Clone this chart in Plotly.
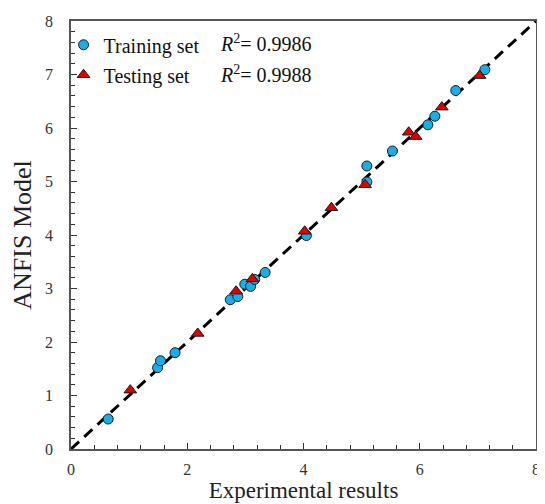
import plotly.graph_objects as go

# Training set (Experimental, ANFIS)
train_exp = [0.64, 1.49, 1.54, 1.79, 2.74, 2.87, 2.99, 3.09, 3.16, 3.34, 4.05, 5.09, 5.09, 5.53, 6.14, 6.26, 6.62, 7.12]
train_anfis = [0.56, 1.52, 1.65, 1.80, 2.79, 2.85, 3.08, 3.04, 3.17, 3.30, 3.99, 4.99, 5.29, 5.57, 6.06, 6.22, 6.70, 7.09]

# Testing set
test_exp = [1.02, 2.18, 2.84, 3.12, 4.02, 4.48, 5.06, 5.81, 5.93, 6.38, 7.03]
test_anfis = [1.10, 2.16, 2.95, 3.18, 4.07, 4.51, 4.94, 5.92, 5.84, 6.39, 6.98]

r2_train = "0.9986"
r2_test = "0.9988"

line_x = [0, 8]
line_y = [0, 8]

FONT = "Liberation Serif"

fig = go.Figure()
fig.add_trace(go.Scatter(x=line_x, y=line_y, mode="lines", showlegend=False,
                         line=dict(color="black", width=3, dash="11px,7px"), hoverinfo="skip"))
fig.add_trace(go.Scatter(x=train_exp, y=train_anfis, mode="markers", name="Training set",
                         legendgroup="a",
                         marker=dict(symbol="circle", size=10, color="#19AEE6",
                                     line=dict(color="#1a1a1a", width=1))))
fig.add_trace(go.Scatter(x=test_exp, y=test_anfis, mode="markers", name="Testing set",
                         legendgroup="b",
                         marker=dict(symbol="triangle-up", size=11, color="#E00000",
                                     line=dict(color="#1a1a1a", width=1))))

axis_common = dict(showgrid=False, zeroline=False, showline=True, linecolor="#555555",
                   linewidth=1.5, mirror=True, ticks="inside", ticklen=6, tickcolor="#333333",
                   tickwidth=1.3, tickfont=dict(family=FONT, size=16, color="#333333"))

fig.update_xaxes(range=[0, 8], tickvals=[0, 2, 4, 6, 8], ticklabelstandoff=5,
                 minor=dict(dtick=0.4, ticks="inside", ticklen=4, tickcolor="#333333", tickwidth=1),
                 title=dict(text="Experimental results", font=dict(family=FONT, size=23, color="#222222"),
                            standoff=4),
                 **axis_common)
fig.update_yaxes(range=[0, 8], tickvals=[0, 1, 2, 3, 4, 5, 6, 7, 8], ticklabelstandoff=13,
                 minor=dict(dtick=0.2, ticks="inside", ticklen=4, tickcolor="#333333", tickwidth=1),
                 title=dict(text="ANFIS Model", font=dict(family=FONT, size=26, color="#222222"),
                            standoff=12),
                 **axis_common)

fig.add_annotation(xref="paper", yref="paper", x=0.316, y=0.948, xanchor="left", yanchor="middle",
                   text="<i>R</i><sup>2</sup>= " + r2_train, showarrow=False,
                   font=dict(family=FONT, size=20, color="#111111"))
fig.add_annotation(xref="paper", yref="paper", x=0.316, y=0.877, xanchor="left", yanchor="middle",
                   text="<i>R</i><sup>2</sup>= " + r2_test, showarrow=False,
                   font=dict(family=FONT, size=20, color="#111111"))

# The page body has an 8px default margin, so the figure is sized to fill the rest of the window.
fig.update_layout(
    width=537, height=496,
    margin=dict(l=63, r=5, t=13, b=55),
    plot_bgcolor="white", paper_bgcolor="white",
    legend=dict(x=-0.016, y=0.99, xanchor="left", yanchor="top", bgcolor="rgba(0,0,0,0)",
                font=dict(family=FONT, size=20, color="#111111"), itemwidth=30, tracegroupgap=1),
)

fig.write_html("out.html")
